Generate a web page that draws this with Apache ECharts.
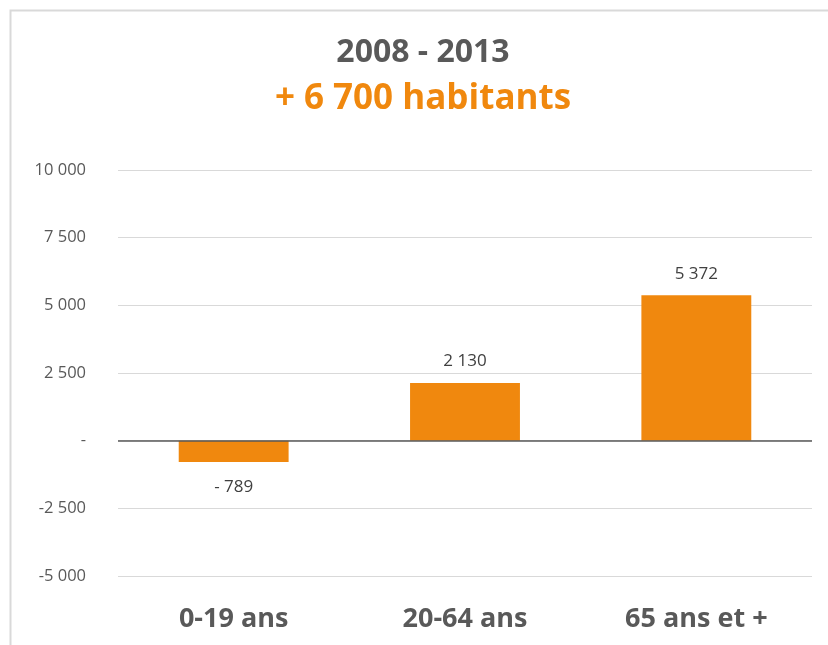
<!DOCTYPE html>
<html><head><meta charset="utf-8">
<script src="https://cdn.jsdelivr.net/npm/echarts@6/dist/echarts.min.js"></script>
<style>html,body{margin:0;padding:0;background:#fff}#c{width:828px;height:645px}</style>
</head><body><div id="c"></div>
<script>
const titleLine1 = '2008 - 2013';
const titleLine2 = '+ 6 700 habitants';
const categories = ['0-19 ans', '20-64 ans', '65 ans et +'];
const values = [-789, 2130, 5372];
const yMin = -5000, yMax = 10000, yStep = 2500;

function fmt(v) {
  if (v === 0) return '-';
  const s = Math.abs(v).toString().replace(/\B(?=(\d{3})+(?!\d))/g, ' ');
  return (v < 0 ? '-' : '') + s;
}
function fmtLabel(v) {
  const s = Math.abs(v).toString().replace(/\B(?=(\d{3})+(?!\d))/g, ' ');
  return (v < 0 ? '- ' : '') + s;
}
const FONT = "'Open Sans', sans-serif";
const chart = echarts.init(document.getElementById('c'));
chart.setOption({
  animation: false,
  graphic: [{
    type: 'rect', left: 8, top: 8, z: -1,
    shape: { width: 840, height: 660 },
    style: { fill: 'none', stroke: '#d9d9d9', lineWidth: 2 }
  }],
  title: [
    { text: titleLine1, left: 418, textAlign: 'center', top: 32,
      textStyle: { color: '#595959', fontSize: 32, fontWeight: 'bold', fontFamily: FONT } },
    { text: titleLine2, left: 418, textAlign: 'center', top: 77,
      textStyle: { color: '#F0880E', fontSize: 35, fontWeight: 'bold', fontFamily: FONT } }
  ],
  grid: { left: 118, right: 16, top: 170, bottom: 69, containLabel: false },
  xAxis: {
    type: 'category', data: categories,
    axisLine: { show: false, onZero: false }, axisTick: { show: false },
    axisLabel: { margin: 30, color: '#595959', fontSize: 27, fontWeight: 'bold', fontFamily: FONT }
  },
  yAxis: {
    type: 'value', min: yMin, max: yMax, interval: yStep,
    axisLine: { show: false }, axisTick: { show: false },
    splitLine: { lineStyle: { color: '#d9d9d9', width: 1 } },
    axisLabel: { margin: 32, color: '#595959', fontSize: 16.5, fontFamily: FONT, formatter: fmt }
  },
  series: [{
    type: 'bar',
    data: values.map(v => v < 0 ? { value: v, label: { distance: 17 } } : v),
    barWidth: '47.5%',
    itemStyle: { color: '#F0880E' },
    label: {
      show: true, position: 'outside', distance: 13, color: '#404040', fontSize: 17, fontFamily: FONT,
      formatter: p => fmtLabel(p.value)
    },
    markLine: {
      silent: true, symbol: 'none', label: { show: false },
      lineStyle: { color: '#595959', width: 1.5, type: 'solid' },
      data: [{ yAxis: 0 }]
    }
  }]
});
</script></body></html>
